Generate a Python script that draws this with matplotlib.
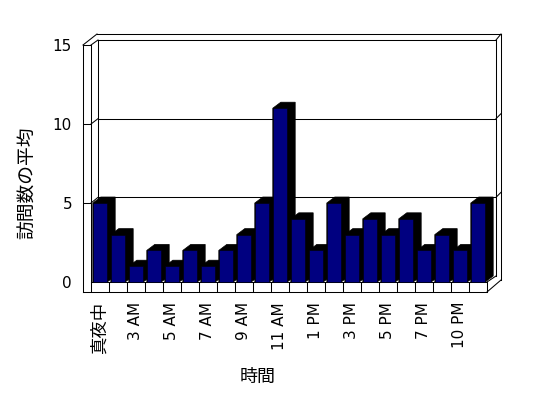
import matplotlib
matplotlib.use('Agg')
import matplotlib.pyplot as plt
from matplotlib.patches import Polygon
from matplotlib.transforms import IdentityTransform

plt.rcParams['font.family'] = ['DejaVu Sans', 'Noto Sans CJK JP']

# data
hours = ['真夜中', '2 AM', '3 AM', '4 AM', '5 AM', '6 AM', '7 AM', '8 AM', '9 AM',
         '10 AM', '11 AM', '12 PM', '1 PM', '2 PM', '3 PM', '4 PM', '5 PM',
         '6 PM', '7 PM', '9 PM', '10 PM', '11 PM']
visits = [5, 3, 1, 2, 1, 2, 1, 2, 3, 5, 11, 4, 2, 5, 3, 4, 3, 4, 2, 3, 2, 5]
y_ticks = [0, 5, 10, 15]
y_max = 15

W, H = 548, 398
fig = plt.figure(figsize=(W / 100, H / 100), dpi=100)


def px_axes(x0, ytop, x1, ybot, **kw):
    return fig.add_axes([x0 / W, 1 - ybot / H, (x1 - x0) / W, (ybot - ytop) / H], **kw)


# plane layout in pixels (front face / back wall of the 3D box)
FX0, FX1, FY0, FYT = 91, 487, 282, 45
BX0, BX1, BY0, BYT = 98, 496, 276, 40
DX, DY = 8, 6  # bar depth in pixels
LINE = dict(color='black', linewidth=0.75)

# decoration layer (box outline), pixel coords
deco = px_axes(0, 0, W, H, zorder=0)
deco.set_xlim(0, W)
deco.set_ylim(H, 0)
deco.axis('off')
deco.plot([83, 83], [FYT, 292], **LINE)
deco.plot([FX0, FX0], [FYT, FY0], **LINE)
deco.plot([83, 97], [FYT, 34], **LINE)
deco.plot([FX0, BX0], [FYT, BYT], **LINE)
deco.plot([97, 501], [34, 34], **LINE)
deco.plot([501, 501], [34, 280], **LINE)
deco.plot([BX1, 501], [BYT, 34], **LINE)
deco.plot([FX1, 501], [292, 280], **LINE)
deco.plot([FX1, BX1], [FY0, BY0], **LINE)
deco.plot([83, FX1], [292, 292], **LINE)
deco.plot([FX0, FX1], [FY0, FY0], **LINE)
for v in y_ticks[1:-1]:
    fy = FY0 - v * (FY0 - FYT) / y_max
    by = BY0 - v * (BY0 - BYT) / y_max
    deco.plot([FX0, BX0], [fy, by], **LINE)
    deco.plot([BX1, 501], [by, by - 5], **LINE)

# back wall with gridlines
axb = px_axes(BX0, BYT, BX1, BY0, zorder=1)
axb.set_xlim(0, 1)
axb.set_ylim(0, y_max)
axb.patch.set_visible(False)
axb.set_xticks([])
axb.set_yticks([])
for side in ['left', 'top', 'right']:
    axb.spines[side].set_linewidth(0.75)
axb.spines['bottom'].set_visible(False)
for v in y_ticks[1:-1]:
    axb.axhline(v, **LINE)

# front plane: bars and axes labels
ax = px_axes(FX0, FYT, FX1, FY0, zorder=2)
ax.set_xlim(-0.5, len(hours) - 0.5)
ax.set_ylim(0, y_max)
ax.patch.set_visible(False)
for s in ax.spines.values():
    s.set_visible(False)

x = list(range(len(hours)))
bars = ax.bar(x, visits, width=0.8, color='#000080', edgecolor='black', linewidth=0.4)
T = ax.transData
for i, (b, v) in enumerate(zip(bars, visits)):
    x0, x1 = i - 0.4, i + 0.4
    (ax0, ay0), (ax1, ay1) = T.transform([(x0, 0), (x1, v)])
    pts = [(ax0, ay1), (ax0 + DX, ay1 + DY), (ax1 + DX, ay1 + DY),
           (ax1 + DX, ay0 + DY), (ax1, ay0), (ax0, ay0)]
    ax.add_patch(Polygon(pts, closed=True, facecolor='black', edgecolor='black',
                         linewidth=0.5, transform=IdentityTransform(),
                         clip_on=False, zorder=2 + 2 * i))
    b.set_zorder(3 + 2 * i)
    b.set_clip_on(False)

# floor strip dividers
strip = (292 - FY0) / (FY0 - FYT)
ax.vlines([k - 0.5 for k in range(len(hours) + 1)], -strip, 0,
          transform=ax.get_xaxis_transform(), clip_on=False, **LINE)

ax.set_yticks(y_ticks)
ax.set_yticklabels([str(t) for t in y_ticks], fontsize=11)
ax.tick_params(axis='y', length=5.76, width=0.75, direction='out', pad=7.9)
ax.yaxis.get_major_ticks()[0].tick1line.set_visible(False)
ax.set_xticks(x[::2])
ax.set_xticklabels(hours[::2], rotation=90, fontsize=11, va='top')
ax.tick_params(axis='x', length=0, pad=14.4)
ax.get_xticklabels()[0].set_fontsize(12.5)

fig.text(28 / W, 1 - 183 / H, '訪問数の平均', rotation=90, ha='center', va='center',
         fontsize=13.5)
fig.text(258 / W, 1 - 377 / H, '時間', ha='center', va='center', fontsize=13)

plt.savefig('out.png', dpi=100)
